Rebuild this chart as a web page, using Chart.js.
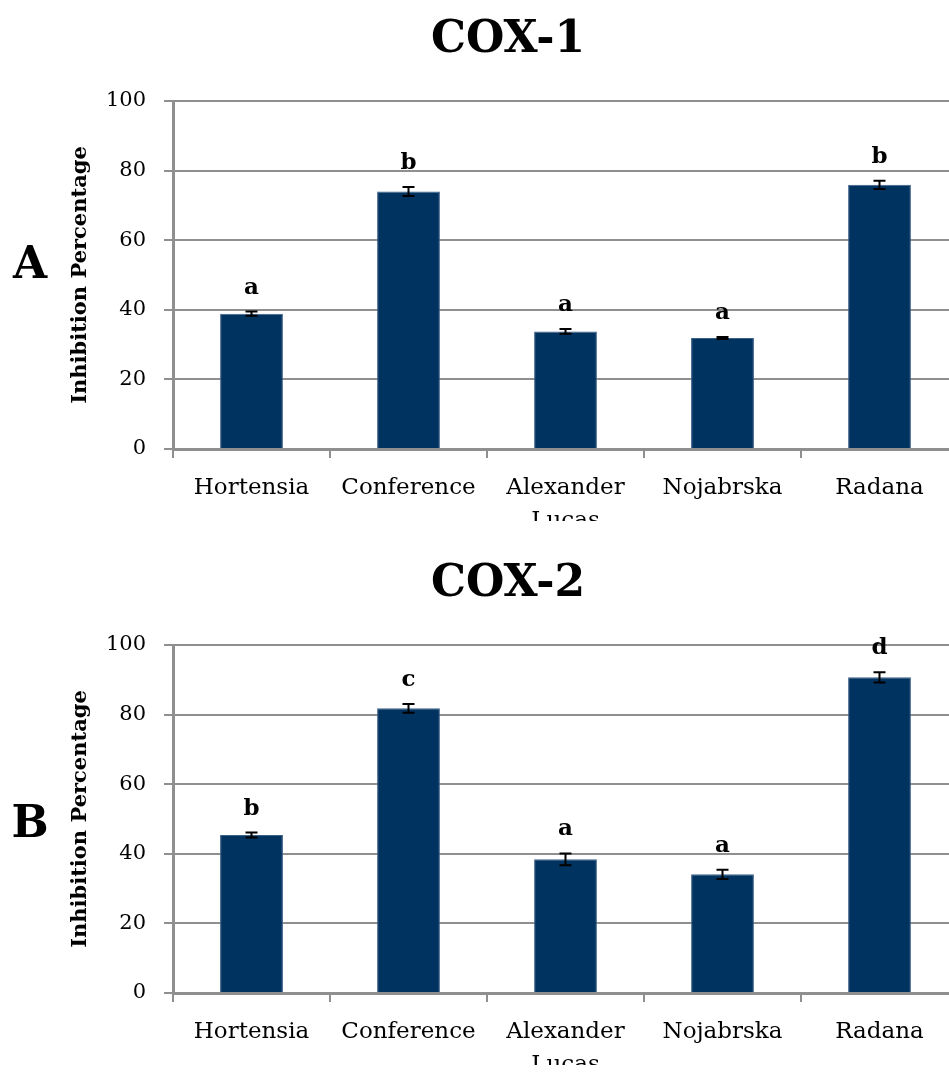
<!DOCTYPE html>
<html>
<head>
<meta charset="utf-8">
<script src="https://cdn.jsdelivr.net/npm/chart.js@4"></script>
<style>
  html, body { margin: 0; padding: 0; background: #fff; overflow: hidden; width: 949px; height: 1077px; }
  canvas { position: absolute; left: 0; }
  #chartA { top: 0; }
  #chartB { top: 544px; }
</style>
</head>
<body>
<canvas id="chartA" width="960" height="521"></canvas>
<canvas id="chartB" width="960" height="533"></canvas>
<script>
const categories = ['Hortensia', 'Conference', ['Alexander', 'Lucas'], 'Nojabrska', 'Radana'];
const yTicks = [0, 20, 40, 60, 80, 100];

const cox1Values = [38.9, 74.0, 33.8, 31.9, 75.9];
const cox1Errors = [0.6, 1.3, 0.7, 0.3, 1.2];
const cox1Letters = ['a', 'b', 'a', 'a', 'b'];

const cox2Values = [45.4, 81.8, 38.4, 34.1, 90.7];
const cox2Errors = [0.7, 1.25, 1.7, 1.35, 1.45];
const cox2Letters = ['b', 'c', 'a', 'a', 'd'];

const barColor = '#00335f';
const gridColor = '#8f8f8f';
const serif = "'DejaVu Serif', serif";

// error bars, significance letters, title and panel letter
function annotations(errors, letters, title, panel, panelY) {
    return {
        id: 'annotations',
        afterDatasetsDraw(chart) {
            const ctx = chart.ctx;
            const y = chart.scales.y;
            const meta = chart.getDatasetMeta(0);
            const values = chart.data.datasets[0].data;
            ctx.save();
            ctx.strokeStyle = '#000';
            ctx.lineWidth = 2;
            ctx.fillStyle = '#000';
            ctx.font = "bold 23px " + serif;
            ctx.textAlign = 'center';
            ctx.textBaseline = 'alphabetic';
            meta.data.forEach(function(bar, i) {
                const top = y.getPixelForValue(values[i] + errors[i]);
                const bottom = y.getPixelForValue(values[i] - errors[i]);
                ctx.beginPath();
                ctx.moveTo(bar.x, top);
                ctx.lineTo(bar.x, bottom);
                ctx.moveTo(bar.x - 6, top);
                ctx.lineTo(bar.x + 6, top);
                ctx.moveTo(bar.x - 6, bottom);
                ctx.lineTo(bar.x + 6, bottom);
                ctx.stroke();
                ctx.fillText(letters[i], bar.x, top - 18);
            });
            ctx.font = "bold 44px " + serif;
            ctx.fillText(title, 508, 52);
            ctx.fillText(panel, 30, panelY);
            ctx.restore();
        }
    };
}

function makeChart(id, values, errors, letters, title, panel, panelY, bottomPad) {
    const ctx = document.getElementById(id).getContext('2d');
    return new Chart(ctx, {
        type: 'bar',
        data: {
            labels: categories,
            datasets: [{
                data: values,
                backgroundColor: barColor,
                borderColor: '#3d6089',
                borderWidth: 1,
                barPercentage: 0.4,
                categoryPercentage: 1.0
            }]
        },
        options: {
            responsive: false,
            animation: false,
            devicePixelRatio: 1,
            layout: {
                padding: { top: 101, right: 2, bottom: bottomPad, left: 0 }
            },
            plugins: {
                legend: { display: false },
                tooltip: { enabled: false }
            },
            scales: {
                x: {
                    grid: {
                        offset: true,
                        drawOnChartArea: false,
                        drawTicks: true,
                        tickLength: 9,
                        color: gridColor,
                        lineWidth: 2
                    },
                    border: { display: true, color: gridColor, width: 3 },
                    ticks: {
                        color: '#000',
                        padding: 13,
                        maxRotation: 0,
                        autoSkip: false,
                        font: { family: serif, size: 23, lineHeight: 1.45 }
                    },
                    afterFit: function(scale) { scale.height = 72; }
                },
                y: {
                    min: 0,
                    max: 100,
                    afterBuildTicks: function(scale) {
                        scale.ticks = yTicks.map(v => ({ value: v }));
                    },
                    grid: {
                        color: gridColor,
                        lineWidth: 2,
                        tickLength: 9
                    },
                    border: { display: true, color: gridColor, width: 3 },
                    ticks: {
                        color: '#000',
                        padding: 18,
                        font: { family: serif, size: 21 }
                    },
                    title: {
                        display: true,
                        text: 'Inhibition Percentage',
                        color: '#000',
                        padding: { top: 68, bottom: 0 },
                        font: { family: serif, size: 21, weight: 'bold' }
                    },
                    afterFit: function(scale) { scale.width = 173; }
                }
            }
        },
        plugins: [annotations(errors, letters, title, panel, panelY)]
    });
}

makeChart('chartA', cox1Values, cox1Errors, cox1Letters, 'COX-1', 'A', 278, 0);
makeChart('chartB', cox2Values, cox2Errors, cox2Letters, 'COX-2', 'B', 293, 12);
</script>
</body>
</html>
